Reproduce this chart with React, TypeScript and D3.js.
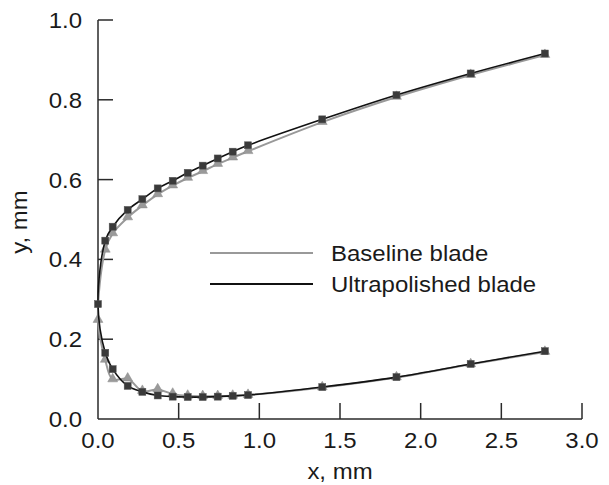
import React from "react";
import * as d3 from "d3";

const stationX = [0.0, 0.045, 0.091, 0.184, 0.275, 0.37, 0.463, 0.556, 0.649, 0.742, 0.835, 0.93, 1.39, 1.85, 2.31, 2.77];
const ultraUpper = [0.288, 0.447, 0.482, 0.524, 0.551, 0.578, 0.597, 0.617, 0.635, 0.653, 0.670, 0.686, 0.751, 0.812, 0.866, 0.916];
const ultraLower = [0.288, 0.166, 0.125, 0.083, 0.068, 0.059, 0.056, 0.055, 0.055, 0.056, 0.058, 0.060, 0.080, 0.105, 0.138, 0.170];
const baseUpper = [0.248, 0.424, 0.465, 0.505, 0.535, 0.563, 0.585, 0.604, 0.621, 0.639, 0.655, 0.671, 0.744, 0.807, 0.862, 0.912];
const baseLower = [0.248, 0.148, 0.099, 0.101, 0.070, 0.074, 0.063, 0.058, 0.057, 0.057, 0.058, 0.060, 0.079, 0.104, 0.137, 0.168];

const xTicks = [0, 0.5, 1.0, 1.5, 2.0, 2.5, 3.0];
const yTicks = [0, 0.2, 0.4, 0.6, 0.8, 1.0];
const legendLabels = ["Baseline blade", "Ultrapolished blade"];
const xTitle = "x, mm";
const yTitle = "y, mm";

const W = 609;
const H = 485;
const FONT = "'Liberation Sans', Arial, sans-serif";
const FS = 22;
const SX = 1.09;

function profile(upper: number[], lower: number[]): [number, number][] {
  const pts: [number, number][] = [];
  for (let i = upper.length - 1; i >= 0; i--) pts.push([stationX[i], upper[i]]);
  for (let i = 1; i < lower.length; i++) pts.push([stationX[i], lower[i]]);
  return pts;
}

function T({ x, y, anchor, children, rotate }: any) {
  const tr = rotate
    ? `translate(${x},${y}) rotate(${rotate}) scale(${SX},1)`
    : `translate(${x},${y}) scale(${SX},1)`;
  return (
    <text transform={tr} textAnchor={anchor} fontFamily={FONT} fontSize={FS} fill="#1a1a1a">
      {children}
    </text>
  );
}

export default function App() {
  const x = d3.scaleLinear().domain([0, 3]).range([98, 582]);
  const y = d3.scaleLinear().domain([0, 1]).range([419, 20]);
  const line = d3
    .line<[number, number]>()
    .x((d) => x(d[0]))
    .y((d) => y(d[1]))
    .curve(d3.curveCatmullRom.alpha(0.5));

  const basePts = profile(baseUpper, baseLower);
  const ultraPts = profile(ultraUpper, ultraLower);
  const tri = d3.symbol().type(d3.symbolTriangle).size(42)();
  const axisColor = "#2a2a2a";

  return (
    <svg width={W} height={H} style={{ position: "absolute", left: 0, top: 0, background: "#fff" }}>
      {/* axes */}
      <line x1={x(0)} x2={x(0)} y1={y(1)} y2={y(0)} stroke={axisColor} strokeWidth={1.5} />
      <line x1={x(0)} x2={x(3)} y1={y(0)} y2={y(0)} stroke={axisColor} strokeWidth={1.5} />
      {yTicks.map((t) => (
        <g key={"y" + t}>
          {t > 0 && <line x1={x(0)} x2={x(0) + 15} y1={y(t)} y2={y(t)} stroke={axisColor} strokeWidth={1.5} />}
          <T x={82} y={y(t) + 8} anchor="end">{d3.format(".1f")(t)}</T>
        </g>
      ))}
      {xTicks.map((t) => (
        <g key={"x" + t}>
          {t > 0 && <line x1={x(t)} x2={x(t)} y1={y(0)} y2={y(0) - 16} stroke={axisColor} strokeWidth={1.5} />}
          <T x={x(t)} y={448} anchor="middle">{d3.format(".1f")(t)}</T>
        </g>
      ))}
      <T x={x(1.5)} y={479} anchor="middle">{xTitle}</T>
      <T x={27} y={222} anchor="middle" rotate={-90}>{yTitle}</T>

      {/* baseline */}
      <path d={line(basePts) || ""} fill="none" stroke="#999" strokeWidth={2} />
      {basePts.map((p, i) => (
        <path key={"bt" + i} d={tri || ""} transform={`translate(${x(p[0])},${y(p[1]) - 0.5})`} fill="#9a9a9a" stroke="#8a8a8a" strokeWidth={0.5} />
      ))}
      {/* ultrapolished */}
      <path d={line(ultraPts) || ""} fill="none" stroke="#111" strokeWidth={1.6} />
      {ultraPts.map((p, i) => (
        <rect key={"us" + i} x={x(p[0]) - 3.5} y={y(p[1]) - 3.5} width={7} height={7} fill="#3a3a3a" stroke="#555" strokeWidth={0.5} />
      ))}

      {/* legend */}
      <line x1={210} x2={313} y1={253} y2={253} stroke="#999" strokeWidth={2} />
      <T x={331} y={261} anchor="start">{legendLabels[0]}</T>
      <line x1={210} x2={313} y1={284} y2={284} stroke="#111" strokeWidth={2} />
      <T x={331} y={292} anchor="start">{legendLabels[1]}</T>
    </svg>
  );
}
